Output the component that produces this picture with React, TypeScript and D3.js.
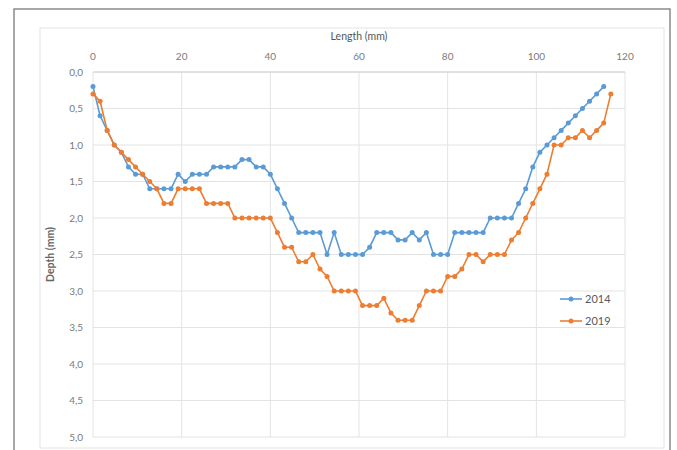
import React from "react";
import * as d3 from "d3";

const lengths = [0,1.6,3.2,4.8,6.4,8,9.6,11.2,12.8,14.4,16,17.6,19.2,20.8,22.4,24,25.6,27.2,28.8,30.4,32,33.6,35.2,36.8,38.4,40,41.6,43.2,44.8,46.4,48,49.6,51.2,52.8,54.4,56,57.6,59.2,60.8,62.4,64,65.6,67.2,68.8,70.4,72,73.6,75.2,76.8,78.4,80,81.6,83.2,84.8,86.4,88,89.6,91.2,92.8,94.4,96,97.6,99.2,100.8,102.4,104,105.6,107.2,108.8,110.4,112,113.6,115.2,116.8];

const depth2014 = [0.2,0.6,0.8,1.0,1.1,1.3,1.4,1.4,1.6,1.6,1.6,1.6,1.4,1.5,1.4,1.4,1.4,1.3,1.3,1.3,1.3,1.2,1.2,1.3,1.3,1.4,1.6,1.8,2.0,2.2,2.2,2.2,2.2,2.5,2.2,2.5,2.5,2.5,2.5,2.4,2.2,2.2,2.2,2.3,2.3,2.2,2.3,2.2,2.5,2.5,2.5,2.2,2.2,2.2,2.2,2.2,2.0,2.0,2.0,2.0,1.8,1.6,1.3,1.1,1.0,0.9,0.8,0.7,0.6,0.5,0.4,0.3,0.2];

const depth2019 = [0.3,0.4,0.8,1.0,1.1,1.2,1.3,1.4,1.5,1.6,1.8,1.8,1.6,1.6,1.6,1.6,1.8,1.8,1.8,1.8,2.0,2.0,2.0,2.0,2.0,2.0,2.2,2.4,2.4,2.6,2.6,2.5,2.7,2.8,3.0,3.0,3.0,3.0,3.2,3.2,3.2,3.1,3.3,3.4,3.4,3.4,3.2,3.0,3.0,3.0,2.8,2.8,2.7,2.5,2.5,2.6,2.5,2.5,2.5,2.3,2.2,2.0,1.8,1.6,1.4,1.0,1.0,0.9,0.9,0.8,0.9,0.8,0.7,0.3];

const xTicks = [0, 20, 40, 60, 80, 100, 120];
const yTicks = [0, 0.5, 1, 1.5, 2, 2.5, 3, 3.5, 4, 4.5, 5];

const seriesNames = ["2014", "2019"];
const seriesColors = ["#5B9BD5", "#ED7D31"];

const W = 677, H = 450;
const plot = { left: 93, right: 625, top: 72, bottom: 437 };
const font = "Lato, 'Open Sans', sans-serif";

export default function App() {
  const x = d3.scaleLinear().domain([0, 120]).range([plot.left, plot.right]);
  const y = d3.scaleLinear().domain([0, 5]).range([plot.top, plot.bottom]);
  const fmt = (v: number) => d3.format(".1f")(v).replace(".", ",");

  const series = [depth2014, depth2019].map((vals) =>
    vals.map((v, i) => [lengths[i], v] as [number, number])
  );
  const line = d3.line<[number, number]>().x((d) => x(d[0])).y((d) => y(d[1]));

  return (
    <svg width={W} height={H} style={{ position: "absolute", left: 0, top: 0, background: "#fff" }}>
      <rect x={14} y={9} width={656} height={460} fill="#fff" stroke="#8a8a8a" strokeWidth={1.5} />
      <rect x={40} y={28} width={624} height={420} fill="#fff" stroke="#e4e4e4" strokeWidth={1} />
      {yTicks.map((t) => (
        <line key={"gy" + t} x1={plot.left} x2={plot.right} y1={y(t)} y2={y(t)} stroke="#e3e3e3" strokeWidth={1} />
      ))}
      {xTicks.map((t) => (
        <line key={"gx" + t} x1={x(t)} x2={x(t)} y1={plot.top} y2={plot.bottom} stroke="#e3e3e3" strokeWidth={1} />
      ))}
      <line x1={plot.left} x2={plot.right} y1={plot.top} y2={plot.top} stroke="#d0d0d0" strokeWidth={1} />
      {xTicks.map((t) => (
        <text key={"tx" + t} x={x(t)} y={60} textAnchor="middle" fontFamily={font} fontSize={10} fill="#7a7a7a">{t}</text>
      ))}
      {yTicks.map((t) => (
        <text key={"ty" + t} x={83} y={y(t) + 3.5} textAnchor="end" fontFamily={font} fontSize={10} fill="#7a7a7a">{fmt(t)}</text>
      ))}
      <text x={(plot.left + plot.right) / 2} y={40} textAnchor="middle" fontFamily={font} fontSize={10.5} fill="#555">Length (mm)</text>
      <text transform={`translate(54,${(plot.top + plot.bottom) / 2}) rotate(-90)`} textAnchor="middle" fontFamily={font} fontSize={10.5} fontWeight="bold" fill="#666">Depth (mm)</text>
      {series.map((s, k) => (
        <g key={"s" + k}>
          <path d={line(s) || ""} fill="none" stroke={seriesColors[k]} strokeWidth={1.6} />
          {s.map((d, i) => (
            <circle key={i} cx={x(d[0])} cy={y(d[1])} r={2.5} fill={seriesColors[k]} />
          ))}
        </g>
      ))}
      {seriesNames.map((n, k) => (
        <g key={"l" + n} transform={`translate(560,${299 + k * 22})`}>
          <line x1={0} x2={22} y1={0} y2={0} stroke={seriesColors[k]} strokeWidth={1.6} />
          <circle cx={11} cy={0} r={2.5} fill={seriesColors[k]} />
          <text x={25} y={4} fontFamily={font} fontSize={11} fill="#595959">{n}</text>
        </g>
      ))}
    </svg>
  );
}
